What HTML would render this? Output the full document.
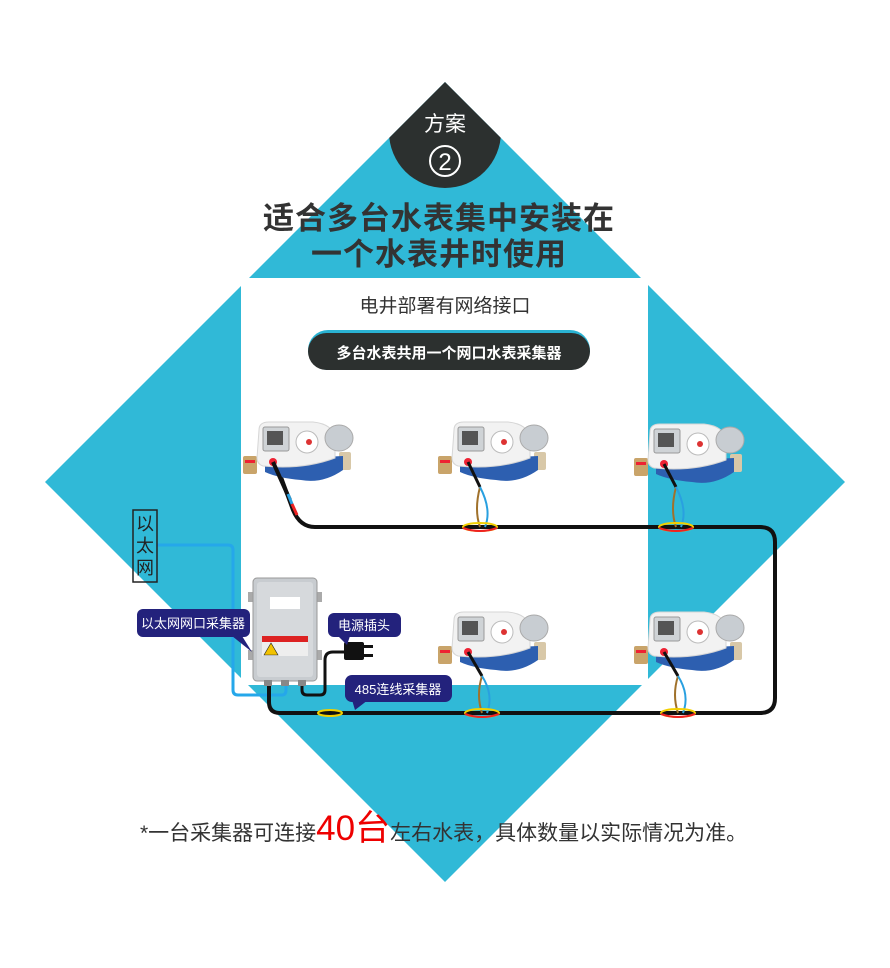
<!DOCTYPE html>
<html><head><meta charset="utf-8"><style>
html,body{margin:0;padding:0;background:#fff;}
svg{display:block;}
text{font-family:"Liberation Sans","Noto Sans CJK SC",sans-serif;}
</style></head><body>
<svg width="890" height="968" viewBox="0 0 890 968" xmlns="http://www.w3.org/2000/svg">
<defs>
<clipPath id="dia"><polygon points="445,82 845,482 445,882 45,482"/></clipPath>
<g id="meter">
  <rect x="0" y="38" width="14" height="18" rx="2" fill="#c9a46a"/>
  <rect x="2" y="42" width="10" height="3" fill="#e23"/>
  <rect x="96" y="34" width="12" height="18" rx="2" fill="#d8c8a8"/>
  <path d="M22,42 L100,38 L100,52 Q80,66 58,62 Q35,60 22,54 Z" fill="#2d5fb0"/>
  <path d="M16,12 Q16,4 26,4 L70,4 Q90,6 92,20 L92,40 Q60,52 20,48 Q14,46 14,40 Z" fill="#f2f2f2" stroke="#d6d6d6"/>
  <rect x="20" y="9" width="26" height="24" rx="2" fill="#cfd3d6" stroke="#999"/>
  <rect x="24" y="13" width="16" height="14" fill="#555"/>
  <circle cx="64" cy="24" r="11" fill="#fff" stroke="#bbb"/>
  <circle cx="66" cy="24" r="3" fill="#d33"/>
  <ellipse cx="96" cy="20" rx="14" ry="13" fill="#c8cdd2" stroke="#aaa"/>
  <circle cx="30" cy="44" r="4" fill="#e23"/>
</g>
</defs>
<rect width="890" height="968" fill="#fff"/>
<polygon points="445,82 845,482 445,882 45,482" fill="#30b9d7"/>
<circle cx="445" cy="132" r="56" fill="#2c302f" clip-path="url(#dia)"/>
<text x="445" y="131" text-anchor="middle" font-size="21" fill="#fff">方案</text>
<circle cx="445" cy="161" r="15" fill="none" stroke="#fff" stroke-width="2"/>
<text x="445" y="170" text-anchor="middle" font-size="24" fill="#fff">2</text>
<text x="439" y="229" text-anchor="middle" font-size="31" font-weight="bold" fill="#333" letter-spacing="1">适合多台水表集中安装在</text>
<text x="439" y="265" text-anchor="middle" font-size="31" font-weight="bold" fill="#333" letter-spacing="1">一个水表井时使用</text>
<rect x="241" y="278" width="407" height="407" fill="#fff"/>
<text x="445" y="312" text-anchor="middle" font-size="19" fill="#333">电井部署有网络接口</text>
<rect x="308" y="330" width="282" height="40" rx="20" fill="#2ab3d3"/>
<rect x="308" y="333" width="282" height="37" rx="18.5" fill="#2c302f"/>
<text x="449" y="358" text-anchor="middle" font-size="15" font-weight="bold" fill="#fff">多台水表共用一个网口水表采集器</text>

<path d="M157,545 L228,545 Q233,545 233,550 L233,690 Q233,695 238,695 L282,695 Q286,695 286,690 L286,682" fill="none" stroke="#25a7ea" stroke-width="3"/>
<path d="M274,458 L293,510 Q300,527 315,527 L760,527 Q775,527 775,542 L775,698 Q775,713 760,713 L280,713 Q269,713 269,702 L269,682" fill="none" stroke="#111" stroke-width="4"/>
<path d="M302,683 L302,690 Q302,695 307,695 L320,695 Q325,695 325,690 L325,660 Q325,652 333,652 L346,652" fill="none" stroke="#111" stroke-width="3"/>

<use href="#meter" x="243" y="418"/>
<use href="#meter" x="438" y="418"/>
<use href="#meter" x="634" y="420"/>
<use href="#meter" x="438" y="608"/>
<use href="#meter" x="634" y="608"/>
<path d="M273,462 L290,500" stroke="#111" stroke-width="4"/>
<g fill="none" stroke-width="2">
<path d="M468,462 L480,487" stroke="#111" stroke-width="3"/>
<path d="M480,487 Q474,510 480,527" stroke="#a0712b"/><path d="M480,487 Q492,510 485,527" stroke="#29a0e0"/>
<ellipse cx="480" cy="527" rx="17" ry="4" stroke="#f3d000"/><path d="M463,528 Q480,534 497,528" stroke="#e22"/>
<path d="M664,464 L676,487" stroke="#111" stroke-width="3"/>
<path d="M676,487 Q670,510 676,527" stroke="#a0712b"/><path d="M676,487 Q688,510 681,527" stroke="#29a0e0"/>
<ellipse cx="676" cy="527" rx="17" ry="4" stroke="#f3d000"/><path d="M659,528 Q676,534 693,528" stroke="#e22"/>
<path d="M468,652 L482,676" stroke="#111" stroke-width="3"/>
<path d="M482,676 Q476,695 482,713" stroke="#a0712b"/><path d="M482,676 Q494,695 487,713" stroke="#29a0e0"/>
<ellipse cx="482" cy="713" rx="17" ry="4" stroke="#f3d000"/><path d="M465,714 Q482,720 499,714" stroke="#e22"/>
<path d="M664,652 L678,676" stroke="#111" stroke-width="3"/>
<path d="M678,676 Q672,695 678,713" stroke="#a0712b"/><path d="M678,676 Q690,695 683,713" stroke="#29a0e0"/>
<ellipse cx="678" cy="713" rx="17" ry="4" stroke="#f3d000"/><path d="M661,714 Q678,720 695,714" stroke="#e22"/>
<ellipse cx="330" cy="713" rx="12" ry="3" stroke="#f3d000"/>
<path d="M288,494 L292,504" stroke="#29a0e0" stroke-width="3"/>
<path d="M292,504 L297,515" stroke="#e22" stroke-width="3"/>
</g>

<rect x="248" y="592" width="8" height="10" fill="#aaa"/><rect x="248" y="650" width="8" height="10" fill="#aaa"/>
<rect x="314" y="592" width="8" height="10" fill="#aaa"/><rect x="314" y="650" width="8" height="10" fill="#aaa"/>
<rect x="253" y="578" width="64" height="103" rx="4" fill="#c8ccd0" stroke="#999"/>
<rect x="257" y="582" width="56" height="95" rx="3" fill="#d6d9dc"/>
<rect x="270" y="597" width="30" height="12" fill="#fff"/>
<rect x="262" y="636" width="46" height="6" fill="#d22"/>
<rect x="262" y="642" width="46" height="14" fill="#eee"/>
<polygon points="264,655 271,643 278,655" fill="#f2c200" stroke="#222" stroke-width="0.6"/>
<rect x="264" y="680" width="8" height="6" fill="#888"/><rect x="281" y="680" width="8" height="6" fill="#888"/><rect x="298" y="680" width="8" height="6" fill="#888"/>
<rect x="344" y="642" width="20" height="18" rx="2" fill="#111"/>
<rect x="364" y="645" width="9" height="3" fill="#111"/><rect x="364" y="654" width="9" height="3" fill="#111"/>

<rect x="133" y="510" width="24" height="72" fill="none" stroke="#222" stroke-width="1.5"/>
<text x="145" y="530" text-anchor="middle" font-size="18" fill="#222">以</text>
<text x="145" y="552" text-anchor="middle" font-size="18" fill="#222">太</text>
<text x="145" y="574" text-anchor="middle" font-size="18" fill="#222">网</text>

<path d="M232,636 L252,652 L242,636 Z" fill="#23227c"/>
<rect x="137" y="609" width="113" height="28" rx="6" fill="#23227c"/>
<text x="193" y="628" text-anchor="middle" font-size="13" fill="#fff">以太网网口采集器</text>
<path d="M338,636 L347,645 L350,636 Z" fill="#23227c"/>
<rect x="328" y="613" width="73" height="24" rx="6" fill="#23227c"/>
<text x="364" y="630" text-anchor="middle" font-size="13" fill="#fff">电源插头</text>
<path d="M352,700 L355,710 L368,700 Z" fill="#23227c"/>
<rect x="345" y="675" width="107" height="27" rx="7" fill="#23227c"/>
<text x="398" y="694" text-anchor="middle" font-size="13" fill="#fff">485连线采集器</text>

<text x="140" y="840" font-size="21" fill="#333">*一台采集器可连接<tspan fill="#e00" font-size="35">40台</tspan>左右水表，具体数量以实际情况为准。</text>
</svg>
</body></html>
